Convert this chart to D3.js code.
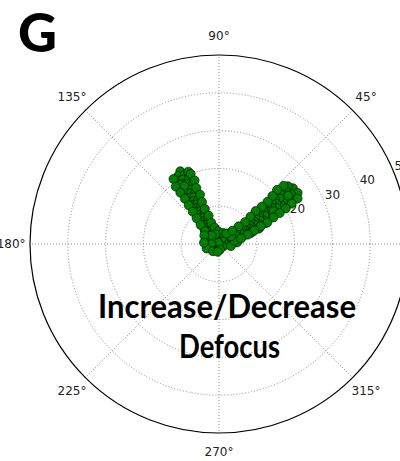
<!DOCTYPE html>
<html>
<head>
<meta charset="utf-8">
<script src="https://cdn.jsdelivr.net/npm/d3@7"></script>
<style>
  body { margin: 0; background: #fff; }
  svg { display: block; }
  .grid { fill: none; stroke: #8a8a8a; stroke-width: 1; stroke-dasharray: 1,2; }
  .tick text { font-family: "DejaVu Sans", sans-serif; font-size: 12px; fill: #222; }
</style>
</head>
<body>
<svg id="chart"></svg>
<script>
var width = 400;
var height = 461;

// angular positions in degrees, radius values (0-50)
var thetaDeg = [
  // left arm
  118, 121, 116, 123, 119, 115, 122, 118, 124, 114, 120, 117, 123, 119, 115, 122,
  118, 125, 120, 116, 123, 119, 126, 121, 117, 124, 120, 127, 122, 116, 125, 119,
  130, 123, 115, 128, 120, 134, 124, 112, 131, 119, 140, 126, 113, 121,
  125, 112, 127, 111, 127, 112, 127, 111, 128, 112, 129, 112, 131, 110, 134, 110, 138, 105,
  // bottom of the V
  100, 80, 150, 60, 200, 250, 300, 170, 20, 340, 60, 160, 190, 120, 90, 45, 95, 10,
  165, 140, 70, 15, 180, 110, 35,
  200, 230, 280, 130, 150, 175, 25, 5, 260, 350,
  // right arm
  37, 33, 40, 35, 38, 33, 36, 40, 34, 37, 31, 39, 35, 32, 38, 34, 30, 37, 33, 29,
  36, 32, 39, 28, 34, 30, 37, 27, 33, 29, 36, 25, 31, 27, 35, 22, 29, 33, 24, 18,
  30, 38, 20, 27, 44, 12, 33, 55, 19, 24, 21, 35, 31,
  30, 42, 29, 43, 28, 42, 27, 41, 26, 41, 24, 42, 23, 41, 21, 40, 18, 42, 14, 45
];
var radius = [
  21.8, 21.0, 20.5, 20.0, 19.5, 19.0, 18.6, 18.0, 17.5, 17.2, 16.8, 16.2, 15.8, 15.3, 14.8, 14.5,
  14.0, 13.6, 13.2, 12.8, 12.4, 12.0, 11.6, 11.2, 10.8, 10.4, 10.0, 9.6, 9.2, 8.8, 8.4, 8.0,
  7.6, 7.2, 6.8, 6.4, 6.0, 5.6, 5.2, 4.8, 4.4, 4.0, 3.6, 3.2, 20.8, 17.9,
  21.0, 20.0, 19.0, 18.0, 17.0, 16.0, 15.0, 14.0, 13.0, 12.0, 11.0, 10.0, 9.0, 8.0, 7.0, 6.0, 5.0, 4.5,
  2.5, 2.0, 1.5, 1.0, 1.2, 0.8, 0.6, 1.8, 2.2, 1.4, 2.8, 3.0, 2.6, 1.9, 0.4, 2.3, 3.4, 2.9,
  3.7, 3.3, 3.1, 3.6, 2.0, 2.7, 4.0,
  3.5, 2.5, 1.5, 3.0, 4.5, 4.0, 3.8, 4.8, 2.1, 3.2,
  24.5, 24.8, 23.8, 23.2, 22.6, 22.0, 21.5, 21.0, 20.5, 20.0, 19.5, 19.0, 18.5, 18.0, 17.6, 17.0,
  16.5, 16.0, 15.5, 15.0, 14.6, 14.2, 13.8, 13.3, 12.8, 12.4, 12.0, 11.5, 11.0, 10.6, 10.2, 9.8,
  9.4, 9.0, 8.6, 8.2, 7.8, 7.4, 7.0, 6.6, 6.2, 5.8, 5.4, 5.0, 4.6, 4.2, 3.8, 3.4, 9.0, 12.2, 11.3,
  22.3, 16.8,
  24.0, 23.0, 22.0, 21.0, 20.0, 19.0, 18.0, 17.0, 16.0, 15.0, 14.0, 13.0, 12.0, 11.0, 10.0, 9.0, 8.0, 7.0, 6.0, 5.0
];

var ringValues = [10, 20, 30, 40, 50];
var angleTicks = [0, 45, 90, 135, 180, 225, 270, 315];

var cx = 219, cy = 244, R = 189;

var rScale = d3.scaleLinear().domain([0, 50]).range([0, R]);
var aScale = d3.scaleLinear().domain([0, 360]).range([0, 2 * Math.PI]);

function px(deg, r) { return cx + rScale(r) * Math.cos(aScale(deg)); }
function py(deg, r) { return cy - rScale(r) * Math.sin(aScale(deg)); }

var svg = d3.select("#chart")
  .attr("width", width)
  .attr("height", height);

// rings
svg.selectAll("circle.ring")
  .data(ringValues.slice(0, -1))
  .enter().append("circle")
  .attr("class", "grid")
  .attr("cx", cx).attr("cy", cy)
  .attr("r", function(d) { return rScale(d); });

// spokes
svg.selectAll("line.spoke")
  .data(angleTicks)
  .enter().append("line")
  .attr("class", "grid")
  .attr("x1", cx).attr("y1", cy)
  .attr("x2", function(d) { return px(d, 50); })
  .attr("y2", function(d) { return py(d, 50); });

// outer frame
svg.append("circle")
  .attr("cx", cx).attr("cy", cy)
  .attr("r", R)
  .attr("fill", "none")
  .attr("stroke", "#000")
  .attr("stroke-width", 1.2);

// angle labels
var tick = svg.append("g").attr("class", "tick");
tick.selectAll("text.ang")
  .data(angleTicks)
  .enter().append("text")
  .attr("x", function(d) { return px(d, 55); })
  .attr("y", function(d) { return py(d, 55); })
  .attr("text-anchor", "middle")
  .attr("dy", "0.35em")
  .text(function(d) { return d + "\u00b0"; });

// radial labels at 22.5 deg
tick.selectAll("text.rad")
  .data(ringValues)
  .enter().append("text")
  .attr("x", function(d) { return px(22.5, d) + 1; })
  .attr("y", function(d) { return py(22.5, d) - 2; })
  .text(function(d) { return d; });

// points
var n = Math.min(thetaDeg.length, radius.length);
svg.selectAll("circle.pt")
  .data(d3.range(n))
  .enter().append("circle")
  .attr("cx", function(i) { return px(thetaDeg[i], radius[i]); })
  .attr("cy", function(i) { return py(thetaDeg[i], radius[i]); })
  .attr("r", 4.5)
  .attr("fill", "#008000")
  .attr("stroke", "#000")
  .attr("stroke-width", 0.6);

// annotation
svg.append("text")
  .attr("x", 227).attr("y", 318)
  .attr("text-anchor", "middle")
  .attr("font-family", "Lato, 'Open Sans', sans-serif")
  .attr("font-weight", "bold")
  .attr("font-size", 32)
  .attr("textLength", 258)
  .attr("lengthAdjust", "spacingAndGlyphs")
  .text("Increase/Decrease");

svg.append("text")
  .attr("x", 229.5).attr("y", 358)
  .attr("text-anchor", "middle")
  .attr("font-family", "Lato, 'Open Sans', sans-serif")
  .attr("font-weight", "bold")
  .attr("font-size", 32)
  .attr("textLength", 101)
  .attr("lengthAdjust", "spacingAndGlyphs")
  .text("Defocus");

// panel letter
svg.append("text")
  .attr("x", 18).attr("y", 52)
  .attr("font-family", "Lato, 'Open Sans', sans-serif")
  .attr("font-weight", "900")
  .attr("font-size", 54)
  .attr("textLength", 39)
  .attr("lengthAdjust", "spacingAndGlyphs")
  .text("G");
</script>
</body>
</html>
